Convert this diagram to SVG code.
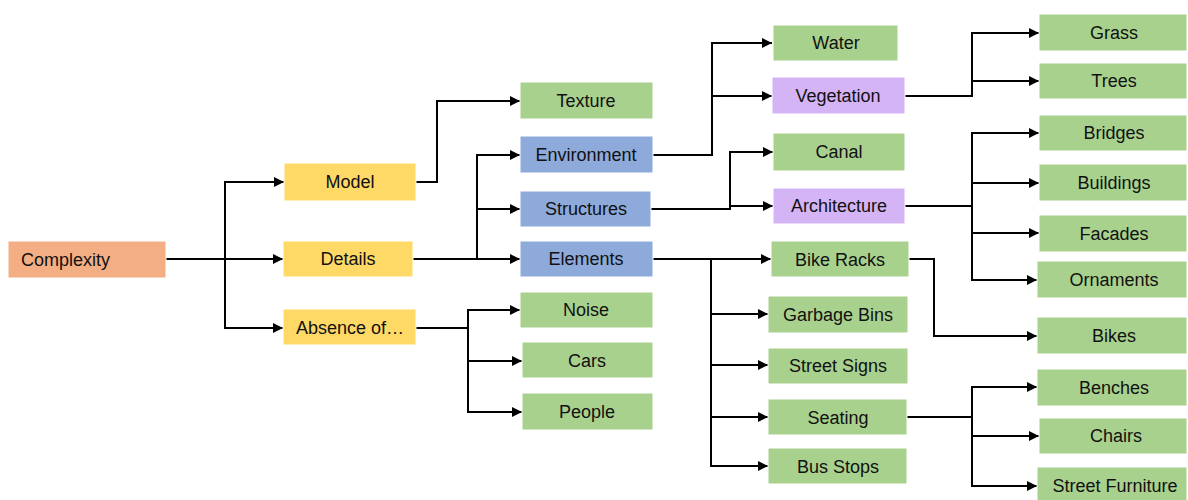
<svg xmlns="http://www.w3.org/2000/svg" width="1188" height="500" viewBox="0 0 1188 500">
  <style>
    .box rect { stroke: #ffffff; stroke-width: 1; }
    .root rect { fill: #F4AE84; }
    .l1 rect { fill: #FFD966; }
    .l2 rect { fill: #8EAADB; }
    .leaf rect { fill: #A9D18E; }
    .sub rect { fill: #D5B4F6; }
    text { font-family: "Liberation Sans", Arial, sans-serif; font-size: 18px; fill: #111111; text-anchor: middle; }
    .conn path { fill: none; stroke: #000000; stroke-width: 2; }
  </style>
  <defs>
    <marker id="arrow" markerUnits="userSpaceOnUse" markerWidth="10" markerHeight="10" refX="10" refY="5" orient="auto">
      <path d="M0,0 L10,5 L0,10 z" fill="#000000"/>
    </marker>
  </defs>

  <!-- connectors -->
  <g id="connectors" class="conn">
    <path d="M166,259 H225 V182 H284" marker-end="url(#arrow)"/>
    <path d="M166,259 H283" marker-end="url(#arrow)"/>
    <path d="M225,259 V328 H283" marker-end="url(#arrow)"/>

    <path d="M416,182 H437 V101 H520" marker-end="url(#arrow)"/>

    <path d="M413,259 H477 V155 H520" marker-end="url(#arrow)"/>
    <path d="M477,209 H520" marker-end="url(#arrow)"/>
    <path d="M413,259 H520" marker-end="url(#arrow)"/>

    <path d="M416,328 H468 V310 H520" marker-end="url(#arrow)"/>
    <path d="M468,328 V361 H522" marker-end="url(#arrow)"/>
    <path d="M468,361 V412 H522" marker-end="url(#arrow)"/>

    <path d="M653,155 H712 V43 H772" marker-end="url(#arrow)"/>
    <path d="M712,96 H772" marker-end="url(#arrow)"/>

    <path d="M651,209 H730 V152 H773" marker-end="url(#arrow)"/>
    <path d="M730,206 H773" marker-end="url(#arrow)"/>

    <path d="M653,259 H771" marker-end="url(#arrow)"/>
    <path d="M711,259 V466 H768" marker-end="url(#arrow)"/>
    <path d="M711,314 H768" marker-end="url(#arrow)"/>
    <path d="M711,365 H768" marker-end="url(#arrow)"/>
    <path d="M711,417 H768" marker-end="url(#arrow)"/>

    <path d="M905,96 H972 V33 H1039" marker-end="url(#arrow)"/>
    <path d="M972,81 H1039" marker-end="url(#arrow)"/>

    <path d="M905,206 H972 V133 H1039" marker-end="url(#arrow)"/>
    <path d="M972,183 H1039" marker-end="url(#arrow)"/>
    <path d="M972,233 H1039" marker-end="url(#arrow)"/>
    <path d="M972,206 V280 H1037" marker-end="url(#arrow)"/>

    <path d="M909,259 H934 V336 H1037" marker-end="url(#arrow)"/>

    <path d="M907,417 H972 V387 H1037" marker-end="url(#arrow)"/>
    <path d="M972,417 V436 H1039" marker-end="url(#arrow)"/>
    <path d="M972,436 V486 H1037" marker-end="url(#arrow)"/>
  </g>

  <!-- nodes -->
  <g id="complexity" class="box root"><rect x="8" y="241" width="158" height="37"/><text x="21" y="266" style="text-anchor:start">Complexity</text></g>

  <g id="model" class="box l1"><rect x="284" y="163" width="132" height="38"/><text x="350" y="188">Model</text></g>
  <g id="details" class="box l1"><rect x="283" y="241" width="130" height="36"/><text x="348" y="265">Details</text></g>
  <g id="absence" class="box l1"><rect x="283" y="309" width="133" height="36"/><text x="350" y="334">Absence of…</text></g>

  <g id="texture" class="box leaf"><rect x="520" y="82" width="133" height="37"/><text x="586" y="107">Texture</text></g>
  <g id="environment" class="box l2"><rect x="520" y="136" width="133" height="37"/><text x="586" y="161">Environment</text></g>
  <g id="structures" class="box l2"><rect x="520" y="191" width="131" height="36"/><text x="586" y="215">Structures</text></g>
  <g id="elements" class="box l2"><rect x="520" y="241" width="133" height="36"/><text x="586" y="265">Elements</text></g>
  <g id="noise" class="box leaf"><rect x="520" y="292" width="133" height="36"/><text x="586" y="316">Noise</text></g>
  <g id="cars" class="box leaf"><rect x="522" y="342" width="131" height="36"/><text x="587" y="367">Cars</text></g>
  <g id="people" class="box leaf"><rect x="522" y="393" width="131" height="37"/><text x="587" y="418">People</text></g>

  <g id="water" class="box leaf"><rect x="773" y="25" width="125" height="36"/><text x="836" y="49">Water</text></g>
  <g id="vegetation" class="box sub"><rect x="772" y="77" width="133" height="37"/><text x="838" y="102">Vegetation</text></g>
  <g id="canal" class="box leaf"><rect x="773" y="133" width="132" height="38"/><text x="839" y="158">Canal</text></g>
  <g id="architecture" class="box sub"><rect x="773" y="188" width="132" height="36"/><text x="839" y="212">Architecture</text></g>
  <g id="bike-racks" class="box leaf"><rect x="771" y="241" width="138" height="36"/><text x="840" y="266">Bike Racks</text></g>
  <g id="garbage-bins" class="box leaf"><rect x="768" y="296" width="140" height="37"/><text x="838" y="321">Garbage Bins</text></g>
  <g id="street-signs" class="box leaf"><rect x="768" y="348" width="140" height="36"/><text x="838" y="372">Street Signs</text></g>
  <g id="seating" class="box leaf"><rect x="768" y="399" width="139" height="36"/><text x="838" y="424">Seating</text></g>
  <g id="bus-stops" class="box leaf"><rect x="768" y="448" width="139" height="36"/><text x="838" y="473">Bus Stops</text></g>

  <g id="grass" class="box leaf"><rect x="1039" y="14" width="148" height="37"/><text x="1114" y="39">Grass</text></g>
  <g id="trees" class="box leaf"><rect x="1039" y="63" width="148" height="36"/><text x="1114" y="87">Trees</text></g>
  <g id="bridges" class="box leaf"><rect x="1039" y="115" width="148" height="36"/><text x="1114" y="139">Bridges</text></g>
  <g id="buildings" class="box leaf"><rect x="1039" y="164" width="148" height="37"/><text x="1114" y="189">Buildings</text></g>
  <g id="facades" class="box leaf"><rect x="1039" y="215" width="148" height="37"/><text x="1114" y="240">Facades</text></g>
  <g id="ornaments" class="box leaf"><rect x="1037" y="261" width="150" height="37"/><text x="1114" y="286">Ornaments</text></g>
  <g id="bikes" class="box leaf"><rect x="1037" y="317" width="150" height="37"/><text x="1114" y="342">Bikes</text></g>
  <g id="benches" class="box leaf"><rect x="1037" y="369" width="150" height="37"/><text x="1114" y="394">Benches</text></g>
  <g id="chairs" class="box leaf"><rect x="1039" y="418" width="148" height="36"/><text x="1116" y="442">Chairs</text></g>
  <g id="street-furniture" class="box leaf"><rect x="1037" y="467" width="150" height="37"/><text x="1115" y="492">Street Furniture</text></g>
</svg>
